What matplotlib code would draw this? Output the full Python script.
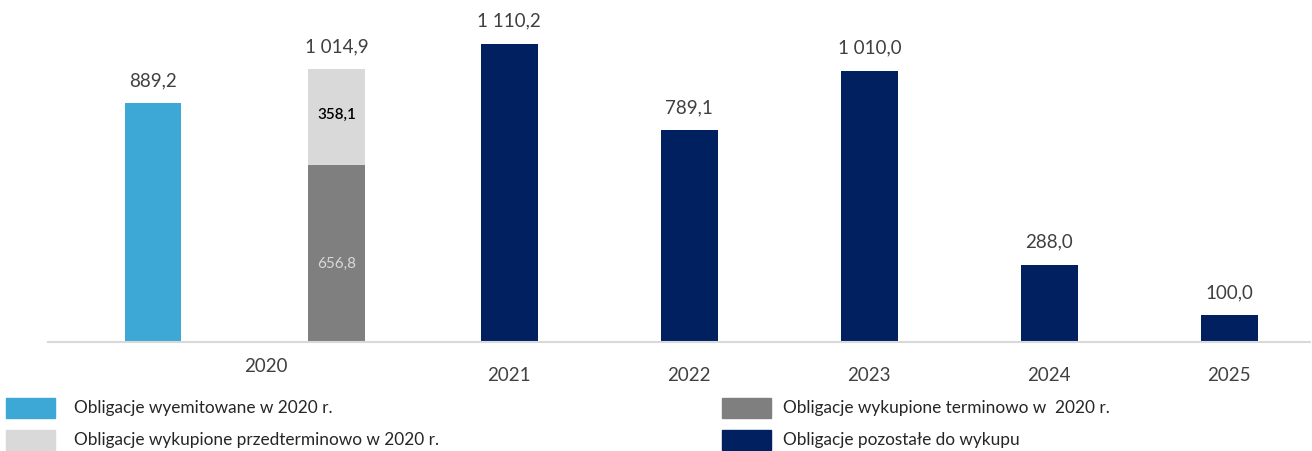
import matplotlib.pyplot as plt
import matplotlib.patches as patches

plt.rcParams['font.family'] = ['Lato', 'DejaVu Sans']

# data
years = ['2021', '2022', '2023', '2024', '2025']
remaining = [1110.2, 789.1, 1010.0, 288.0, 100.0]
issued_2020 = 889.2
redeemed_term_2020 = 656.8
redeemed_early_2020 = 358.1

legend_labels = ['Obligacje wyemitowane w 2020 r.',
                 'Obligacje wykupione przedterminowo w 2020 r.',
                 'Obligacje wykupione terminowo w  2020 r.',
                 'Obligacje pozostałe do wykupu']

c_blue = '#3DA7D6'
c_dgrey = '#7F7F7F'
c_lgrey = '#D9D9D9'
c_navy = '#002060'
c_text = '#404040'

def fmt(v):
    s = f'{v:,.1f}'
    return s.replace(',', ' ').replace('.', ',')

fig = plt.figure(figsize=(13.12, 4.51), dpi=100)
ax = fig.add_axes([48/1312, (451-342)/451, (1310-48)/1312, 336/451])

w = 0.315
x_issued = 0.0
x_redeemed = 1.02
x_years = [1.98 + i for i in range(len(years))]

ax.bar(x_issued, issued_2020, w, color=c_blue)
ax.bar(x_redeemed, redeemed_term_2020, w, color=c_dgrey)
ax.bar(x_redeemed, redeemed_early_2020, w, bottom=redeemed_term_2020, color=c_lgrey)
ax.bar(x_years, remaining, w, color=c_navy)

# value labels on top
tops = [(x_issued, issued_2020), (x_redeemed, redeemed_term_2020 + redeemed_early_2020)]
tops += list(zip(x_years, remaining))
for x, v in tops:
    ax.annotate(fmt(v), (x, v), xytext=(0, 16), textcoords='offset points',
                ha='center', va='center', fontsize=13.5, color=c_text)

# segment labels
ax.text(x_redeemed, redeemed_term_2020 * 0.44, fmt(redeemed_term_2020),
        ha='center', va='center', fontsize=11, color='#D9D9D9')
ax.text(x_redeemed, redeemed_term_2020 + redeemed_early_2020 / 2 + 8,
        fmt(redeemed_early_2020), ha='center', va='center', fontsize=11,
        color='black', fontweight='semibold')

ax.set_xlim(-0.583, 6.428)
ax.set_ylim(0, 1250)
ax.set_xticks(x_years)
ax.set_xticklabels(years, fontsize=13.5, color=c_text)
ax.tick_params(axis='x', length=0, pad=18)
ax.set_yticks([])
for s in ['top', 'right', 'left']:
    ax.spines[s].set_visible(False)
ax.spines['bottom'].set_color('#D9D9D9')
ax.spines['bottom'].set_linewidth(1.5)

ax.annotate('2020', (0.63, 0), xytext=(0, -18), textcoords='offset points',
            ha='center', va='center', fontsize=13.5, color=c_text,
            annotation_clip=False)

# legend drawn by hand
leg_colors = [c_blue, c_lgrey, c_dgrey, c_navy]
leg_pos = [(6, 74, 408), (6, 74, 440), (722, 783, 408), (722, 783, 440)]
for col, lab, (px, tx, py) in zip(leg_colors, legend_labels, leg_pos):
    fig.patches.append(patches.Rectangle((px/1312, (451-py-10)/451), 49/1312, 20/451,
                                         transform=fig.transFigure, color=col))
    fig.text(tx/1312, (451-py)/451, lab, ha='left', va='center',
             fontsize=12.4, color='#262626')

plt.savefig('out.png', dpi=100)
